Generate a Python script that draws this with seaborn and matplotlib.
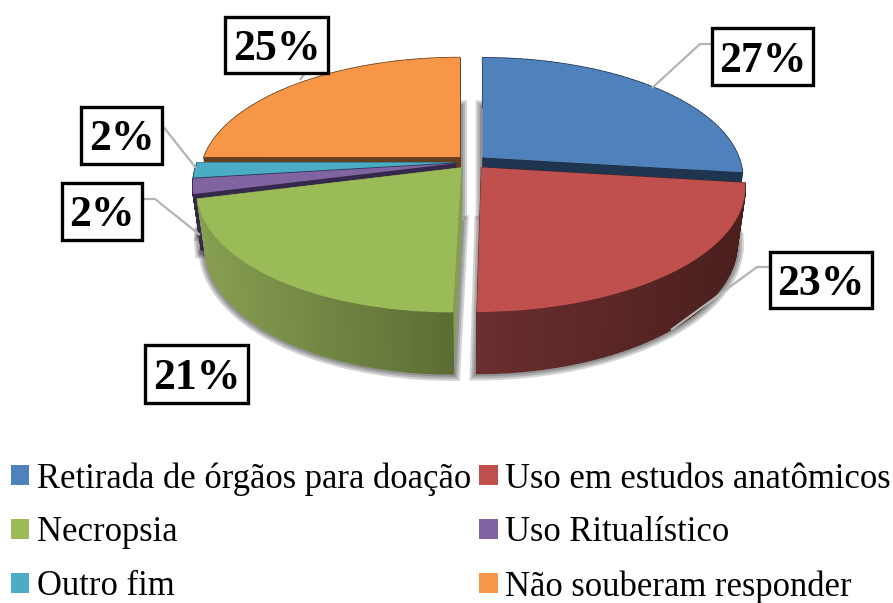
import matplotlib
matplotlib.use("Agg")
import matplotlib.pyplot as plt
import seaborn as sns
import numpy as np
from matplotlib.patches import Polygon, Rectangle
from matplotlib.transforms import Transform

categorias = ["Retirada de órgãos para doação", "Uso em estudos anatômicos", "Necropsia",
              "Uso Ritualístico", "Outro fim", "Não souberam responder"]
valores = [27, 23, 21, 2, 2, 25]
afastamento = [0.06, 0.06, 0.06, 0.06, 0.06, 0.06]

cores = ["#4F81BD", "#C0504D", "#9BBB59", "#8064A2", "#4BACC6", "#F79646"]
# cor da lateral: (esquerda, direita) e cor das faces de corte
lateral = [("#1F344F", "#1F344F"), ("#6A2E2E", "#4A1F1E"), ("#879F52", "#5C6C34"),
           ("#35284A", "#35284A"), ("#24566A", "#24566A"), ("#66401E", "#66401E")]
corte = ["#1F344F", "#4A1F1E", "#84A04E", "#35284A", "#24566A", "#66401E"]
ordem = [5, 0, 4, 3, 2, 1]  # de tras para frente

# parametros da perspectiva
CX, CY, R, H, K, ESQ, D, M = 471, 162, 258, 118, 0.17, 5, 57, 0.03


def projeta(u, v, z=0, u0=0.0):
    # u0: afastamento da fatia, so encolhe/cresce na metade da frente
    w = 1 + K * v + M * z
    desvio = -ESQ * np.minimum(v, 0) ** 2
    x = CX + R * u0 / np.minimum(w, 1) + (R * (u - u0) + desvio) / w
    return x, CY + (-H * v + D * z) / w


class Disco(Transform):
    input_dims = 2
    output_dims = 2

    def __init__(self, u0):
        super().__init__()
        self.u0 = u0

    def transform_non_affine(self, values):
        x, y = projeta(values[:, 0], values[:, 1], 0, self.u0)
        return np.column_stack([x, y])


def arco(fatia, n=60):
    t = np.radians(np.linspace(fatia.theta1, fatia.theta2, n))
    return fatia.center[0] + np.cos(t), fatia.center[1] + np.sin(t)


sns.set_style("white")
plt.rcParams["font.family"] = ["Liberation Serif", "DejaVu Serif"]
plt.rcParams["text.color"] = "black"

fig = plt.figure(figsize=(8.93, 6.03), dpi=100)
ax = fig.add_axes([0, 0, 1, 1])
fatias, _ = ax.pie(valores, explode=afastamento, colors=cores, startangle=90,
                   counterclock=False, radius=1, frame=True, wedgeprops={"linewidth": 0})
ax.set(xlim=(0, 893), ylim=(603, 0), aspect="auto")
ax.axis("off")

for pos, i in enumerate(ordem):
    f = fatias[i]
    base = 2 + pos
    cx0, cy0 = f.center
    f.set_transform(Disco(cx0) + ax.transData)
    f.set_zorder(base + 0.5)
    u, v = arco(f)

    # sombra em volta da base
    xb, yb = projeta(np.r_[cx0, u], np.r_[cy0, v], 1, cx0)
    for lw in (10, 7, 4):
        ax.add_patch(Polygon(np.column_stack([xb, yb]), closed=True, fill=False,
                             ec="black", alpha=0.17, lw=lw, zorder=1))

    # faces de corte
    for k in (0, -1):
        xt, yt = projeta(np.array([cx0, u[k]]), np.array([cy0, v[k]]), 0, cx0)
        xf, yf = projeta(np.array([u[k], cx0]), np.array([v[k], cy0]), 1, cx0)
        ax.add_patch(Polygon(np.column_stack([np.r_[xt, xf], np.r_[yt, yf]]), closed=True,
                             fc=corte[i], ec=corte[i], lw=0.5, zorder=base))

    # lateral externa, em tiras para o degrade
    xt, yt = projeta(u, v, 0, cx0)
    c0 = np.array(matplotlib.colors.to_rgb(lateral[i][0]))
    c1 = np.array(matplotlib.colors.to_rgb(lateral[i][1]))
    x0, x1 = xb[1:].min(), xb[1:].max()
    for j in range(len(u) - 1):
        s = (xb[j + 1] - x0) / max(x1 - x0, 1)
        c = c0 + (c1 - c0) * s
        ax.add_patch(Polygon([(xt[j], yt[j]), (xt[j + 1], yt[j + 1]),
                              (xb[j + 2], yb[j + 2]), (xb[j + 1], yb[j + 1])],
                             closed=True, fc=c, ec=c, lw=1, zorder=base + 0.2))

# linhas de chamada
chamadas = [([652, 700, 712], [88, 44, 44]), ([671, 757, 770], [330, 267, 267]),
            ([142, 155, 200], [199, 199, 235]), ([162, 196], [125, 168]),
            ([305, 300], [73, 80])]
for xs, ys in chamadas:
    ax.plot(xs, ys, color="#B4B4B4", lw=1.6, zorder=20, solid_capstyle="butt")

# rotulos
caixas = [(712, 28, 101, 57), (770, 252, 102, 56), (145, 345, 103, 58),
          (62, 183, 80, 57), (81, 107, 81, 57), (225, 17, 103, 56)]
for val, (x, y, w, h) in zip(valores, caixas):
    ax.add_patch(Rectangle((x, y), w, h, fc="white", ec="black", lw=2.4, zorder=21))
    ax.text(x + w / 2, y + h / 2 + 4, f"{val}%", ha="center", va="center",
            fontsize=31.5, fontweight="bold", color="black", zorder=22)

idx = [0, 2, 4, 1, 3, 5]
ax.legend([fatias[i] for i in idx], [categorias[i] for i in idx], ncol=2, frameon=False,
          loc="upper left", bbox_to_anchor=(11 / 893, 1 - 462 / 603), borderpad=0, borderaxespad=0,
          prop={"size": 24.9}, handlelength=0.53, handleheight=0.53, handletextpad=0.22,
          labelspacing=0.6, columnspacing=0.24)

fig.savefig("out.png", dpi=100)
